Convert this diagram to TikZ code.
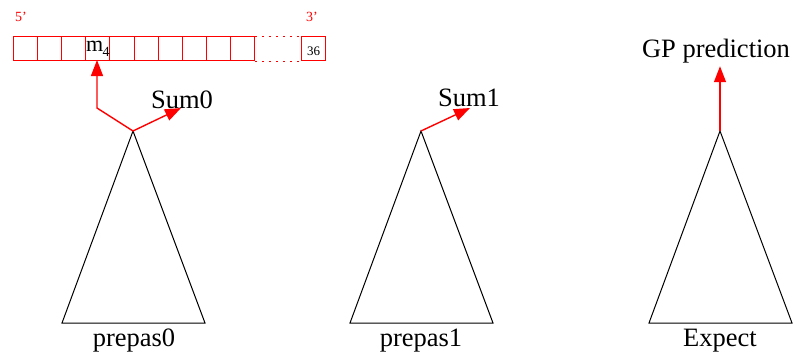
\documentclass[tikz,border=0pt]{standalone}
\usepackage{fontspec}
\setmainfont{Liberation Serif}
\usetikzlibrary{arrows.meta}
\begin{document}
\begin{tikzpicture}[x=1pt,y=-1pt,
  tri/.style={draw=black,line width=1pt,line join=miter},
  redarrow/.style={draw=red,line width=1.4pt,-{Triangle[length=16pt,width=12pt]}},
  cell/.style={draw=red,line width=1pt,minimum width=24.1pt,minimum height=24pt,inner sep=0pt,anchor=north west},
  big/.style={font=\fontsize{26.5}{30}\selectfont,inner sep=0pt},
  small/.style={font=\fontsize{14}{16}\selectfont,inner sep=0pt}]
\useasboundingbox (0,0) rectangle (804,360);
% memory cells
\foreach \i in {1,...,10}{
  \node[cell] (c\i) at ({13+24.1*(\i-1)},36) {};
}
\node[cell,minimum width=24pt] (c11) at (301,36) {};
\node[small,font=\fontsize{13}{15}\selectfont] (n36) at (c11.center) [yshift=-3pt] {36};
\node[font=\fontsize{22}{26}\selectfont,inner sep=0pt] (m4) at (c4.center) {m\kern-0.5pt\raisebox{-5pt}{\fontsize{14}{16}\selectfont 4}};
\draw[red,line width=1pt,dash pattern=on 2pt off 5pt] (c10.north east) -- (c11.north west);
\draw[red,line width=1pt,dash pattern=on 2pt off 5pt] (c10.south east) -- (c11.south west);
\node[small,text=red] (p5) at (21,17) {5'};
\node[small,text=red] (p3) at (312,17) {3'};
% triangles
\coordinate (a0) at (133,131);
\coordinate (a1) at (421,131);
\coordinate (a2) at (720,131);
\draw[tri] (a0) -- (62,323) -- (205,323) -- cycle;
\draw[tri] (a1) -- (350,323) -- (493,323) -- cycle;
\draw[tri] (a2) -- (649,323) -- (792,323) -- cycle;
\node[big] (l0) at (134,341) {prepas0};
\node[big] (l1) at (421,341) {prepas1};
\node[big] (l2) at (720,341) {Expect};
% outputs
\node[big] (s0) at (182,100) {Sum0};
\node[big] (s1) at (469,98) {Sum1};
\node[big] (gp) at (716,51) {GP prediction};
\coordinate (bend) at (97,108);
\coordinate (t0) at (181,108);
\coordinate (t1) at (470,108);
\draw[redarrow] (a0) -- (bend) -- ([yshift=1pt]c4.south -| bend);
\draw[redarrow] (a0) -- (t0);
\draw[redarrow] (a1) -- (t1);
\draw[redarrow] (a2) -- ([yshift=-3pt]a2 |- gp.south);
\end{tikzpicture}
\end{document}
